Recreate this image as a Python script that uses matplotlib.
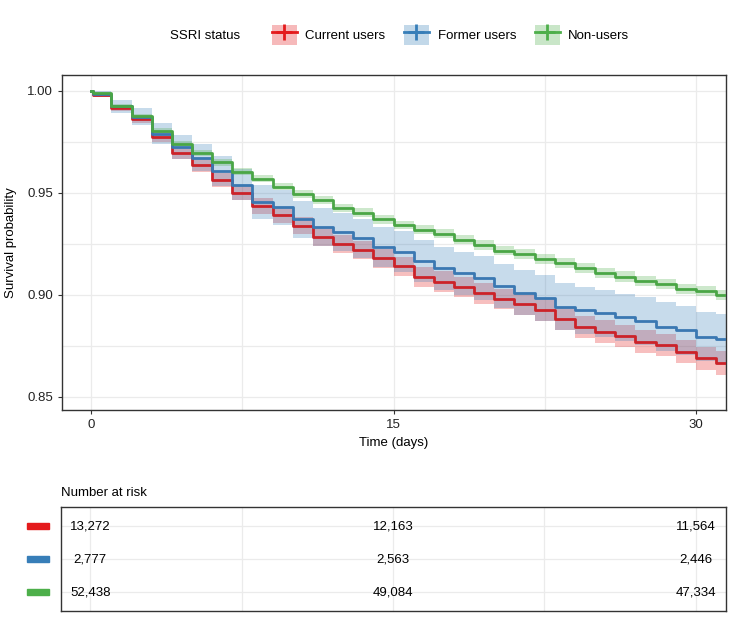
import matplotlib
matplotlib.use("Agg")
import matplotlib.pyplot as plt
import matplotlib.transforms as mtransforms
from matplotlib.patches import Patch, Rectangle
from matplotlib.lines import Line2D
from matplotlib.legend_handler import HandlerTuple

plt.rcParams['font.family'] = ['Liberation Sans', 'DejaVu Sans']

# event times (days); first drop just after day 0
times = [0, 0.1] + list(range(1, 32))
end_time = 31.5

current_surv = [1.0, 0.998, 0.9918, 0.9864, 0.9776, 0.9695, 0.9637, 0.9565, 0.9501, 0.9436, 0.9392,
                0.9340, 0.9285, 0.9250, 0.9220, 0.9180, 0.9140, 0.9090, 0.9065, 0.9038, 0.9008,
                0.8980, 0.8956, 0.8926, 0.8880, 0.8845, 0.8820, 0.8799, 0.8771, 0.8755, 0.8722,
                0.8690, 0.8665]
current_upper = [1.0, 0.9988, 0.9933, 0.9884, 0.9801, 0.9724, 0.9669, 0.9600, 0.9538, 0.9475, 0.9433,
                 0.9382, 0.9329, 0.9295, 0.9266, 0.9227, 0.9188, 0.9139, 0.9115, 0.9088, 0.9059,
                 0.9031, 0.9008, 0.8979, 0.8934, 0.8899, 0.8875, 0.8854, 0.8827, 0.8811, 0.8779,
                 0.8747, 0.8723]
current_lower = [1.0, 0.9972, 0.9903, 0.9844, 0.9751, 0.9666, 0.9605, 0.9530, 0.9464, 0.9397, 0.9351,
                 0.9298, 0.9241, 0.9205, 0.9174, 0.9133, 0.9092, 0.9041, 0.9015, 0.8988, 0.8957,
                 0.8929, 0.8904, 0.8873, 0.8826, 0.8791, 0.8765, 0.8744, 0.8715, 0.8699, 0.8665,
                 0.8633, 0.8607]

former_surv = [1.0, 0.9985, 0.9925, 0.9873, 0.9791, 0.9725, 0.9673, 0.9608, 0.9541, 0.9456, 0.9429,
               0.9370, 0.9335, 0.9310, 0.9278, 0.9234, 0.9212, 0.9168, 0.9131, 0.9106, 0.9082,
               0.9044, 0.9011, 0.8984, 0.8943, 0.8926, 0.8910, 0.8890, 0.8874, 0.8845, 0.8828,
               0.8796, 0.8783]
former_upper = [1.0, 0.9999, 0.9957, 0.9915, 0.9844, 0.9786, 0.9739, 0.9680, 0.9619, 0.9540, 0.9515,
                0.9460, 0.9428, 0.9404, 0.9374, 0.9333, 0.9312, 0.9271, 0.9236, 0.9212, 0.9189,
                0.9153, 0.9122, 0.9096, 0.9057, 0.9041, 0.9026, 0.9007, 0.8992, 0.8964, 0.8948,
                0.8917, 0.8905]
former_lower = [1.0, 0.9971, 0.9893, 0.9831, 0.9738, 0.9664, 0.9607, 0.9536, 0.9463, 0.9372, 0.9343,
                0.9280, 0.9242, 0.9216, 0.9182, 0.9135, 0.9112, 0.9065, 0.9026, 0.9000, 0.8975,
                0.8935, 0.8900, 0.8872, 0.8829, 0.8811, 0.8794, 0.8773, 0.8756, 0.8726, 0.8708,
                0.8675, 0.8661]

non_surv = [1.0, 0.9990, 0.9928, 0.9879, 0.9804, 0.9742, 0.9695, 0.9650, 0.9605, 0.9570, 0.9530,
            0.9494, 0.9466, 0.9426, 0.9404, 0.9371, 0.9343, 0.9319, 0.9299, 0.9270, 0.9245,
            0.9217, 0.9201, 0.9175, 0.9155, 0.9131, 0.9106, 0.9090, 0.9070, 0.9052, 0.9029,
            0.9020, 0.9000]
non_upper = [1.0, 0.9993, 0.9935, 0.9888, 0.9816, 0.9756, 0.9710, 0.9666, 0.9622, 0.9587, 0.9548,
             0.9513, 0.9485, 0.9446, 0.9424, 0.9392, 0.9364, 0.9341, 0.9321, 0.9292, 0.9268,
             0.9240, 0.9224, 0.9199, 0.9179, 0.9155, 0.9130, 0.9115, 0.9095, 0.9077, 0.9054,
             0.9045, 0.9026]
non_lower = [1.0, 0.9987, 0.9921, 0.9870, 0.9792, 0.9728, 0.9680, 0.9634, 0.9588, 0.9553, 0.9512,
             0.9475, 0.9447, 0.9406, 0.9384, 0.9350, 0.9322, 0.9297, 0.9277, 0.9248, 0.9222,
             0.9194, 0.9178, 0.9151, 0.9131, 0.9107, 0.9082, 0.9065, 0.9045, 0.9027, 0.9004,
             0.8995, 0.8974]

group_names = ["Current users", "Former users", "Non-users"]
risk_times = [0, 15, 30]
current_risk = [13272, 12163, 11564]
former_risk = [2777, 2563, 2446]
non_risk = [52438, 49084, 47334]

band_colors = ['#E41A1C', '#377EB8', '#4DAF4A']
line_colors = ['#CC2229', '#3A78B2', '#4AA646']

groups = [
    (current_surv, current_lower, current_upper, current_risk),
    (former_surv, former_lower, former_upper, former_risk),
    (non_surv, non_lower, non_upper, non_risk),
]

fig = plt.figure(figsize=(7.35, 6.2), dpi=100)
ax = fig.add_axes([0.0844, 0.3387, 0.9034, 0.5403])
ax_r = fig.add_axes([0.083, 0.0145, 0.9048, 0.1677])

t_ext = times + [end_time]
for (surv, lo, up, _), bc in zip(groups, band_colors):
    ax.fill_between(t_ext, lo + [lo[-1]], up + [up[-1]], step='post',
                    color=bc, alpha=0.28, linewidth=0, zorder=2)
for (surv, lo, up, _), lc in zip(groups, line_colors):
    ax.step(t_ext, surv + [surv[-1]], where='post', color=lc, lw=2.0, zorder=3)

xlim = (-1.45, 31.5)
ax.set_xlim(*xlim)
ax.set_ylim(0.8436, 1.0078)
ax.set_xticks([0, 15, 30])
ax.set_xticks([7.5, 22.5], minor=True)
ax.set_yticks([0.85, 0.90, 0.95, 1.00])
ax.set_yticklabels(['0.85', '0.90', '0.95', '1.00'])
ax.set_yticks([0.875, 0.925, 0.975], minor=True)
ax.grid(which='both', color='#EBEBEB', lw=0.9, zorder=0)
ax.set_axisbelow(True)
ax.tick_params(which='major', length=3, color='#333333', labelsize=9.5, labelcolor='#222222')
ax.tick_params(which='minor', length=0)
for s in ax.spines.values():
    s.set_color('#333333')
    s.set_linewidth(1.0)
ax.set_xlabel('Time (days)', fontsize=9.5, labelpad=4)
ax.set_ylabel('Survival probability', fontsize=9.5, labelpad=7)

# legend on top
handles = []
for bc, lc in zip(band_colors, line_colors):
    handles.append((Patch(facecolor=bc, alpha=0.3, edgecolor='none'),
                    Line2D([], [], color=bc, lw=2, marker='+', markersize=11, markeredgewidth=2)))
fig.legend(handles, group_names, handler_map={tuple: HandlerTuple(ndivide=1)},
           loc='center', bbox_to_anchor=(0.6129, 1 - 35 / 620), ncol=3, frameon=False,
           fontsize=9.5, handlelength=1.9, handleheight=2.0, handletextpad=0.65,
           columnspacing=1.4)
fig.text(170 / 735, 1 - 36 / 620, 'SSRI status', fontsize=9.5, ha='left', va='center')

# risk table
rows = [3, 2, 1]
ax_r.set_xlim(*xlim)
ax_r.set_ylim(0.424, 3.576)
ax_r.set_xticks([0, 15, 30])
ax_r.set_xticks([7.5, 22.5], minor=True)
ax_r.set_yticks(rows)
ax_r.grid(which='both', color='#EBEBEB', lw=0.9)
ax_r.tick_params(which='both', length=0, labelbottom=False, labelleft=False)
for s in ax_r.spines.values():
    s.set_color('#333333')
    s.set_linewidth(1.0)
trans = mtransforms.blended_transform_factory(ax_r.transAxes, ax_r.transData)
for (_, _, _, risk), row, bc in zip(groups, rows, band_colors):
    ax_r.add_patch(Rectangle((-0.0511, row - 0.09), 0.033, 0.18, transform=trans,
                             color=bc, clip_on=False))
    for t, n in zip(risk_times, risk):
        ax_r.text(t, row, f"{n:,}", ha='center', va='center', fontsize=9.5)
ax_r.set_title('Number at risk', loc='left', fontsize=9.5, pad=8)

fig.savefig('out.png', dpi=100)
